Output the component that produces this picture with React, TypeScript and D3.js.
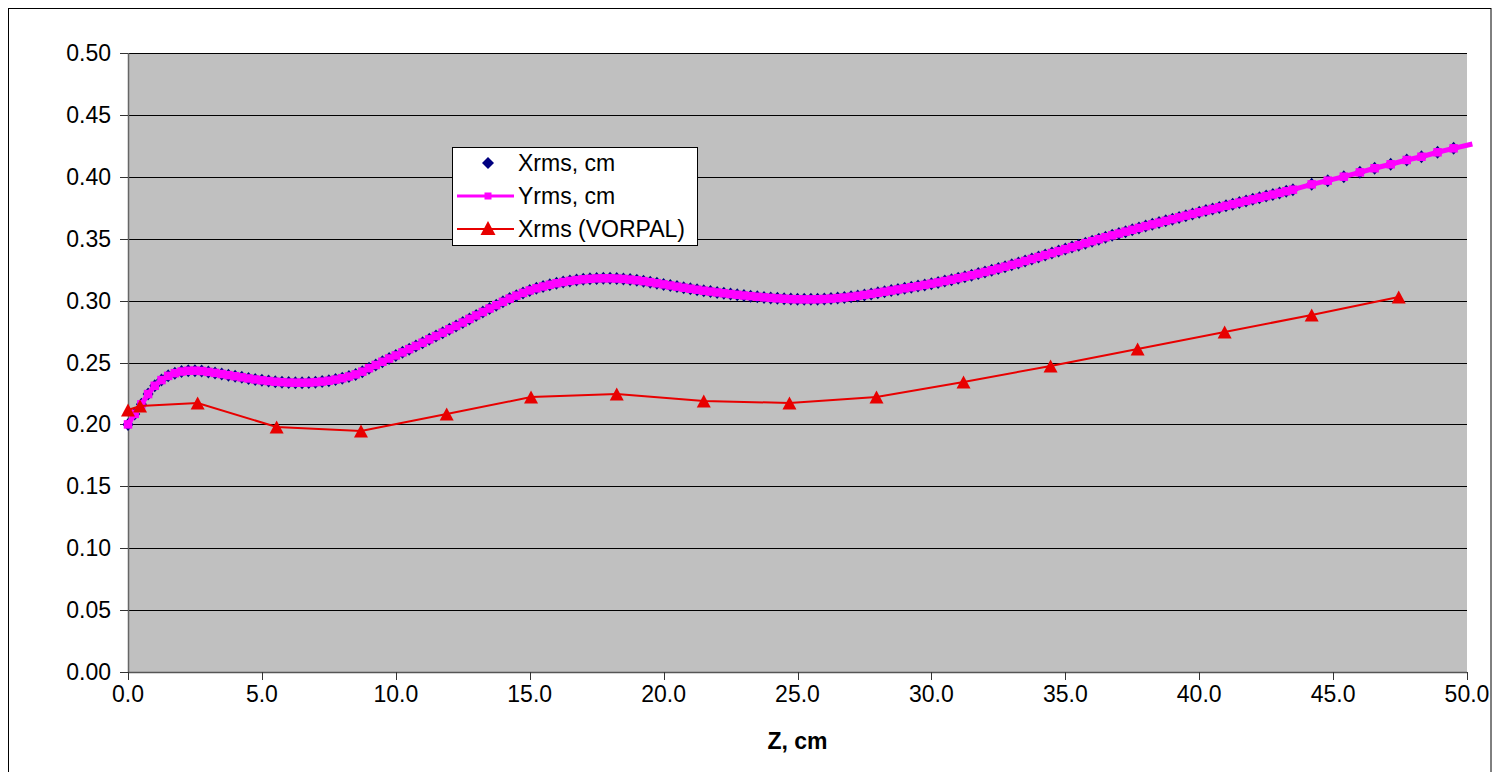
import * as d3 from "d3";

// Xrms / Yrms beam size vs Z, dense sampling (0 .. 43.5 cm, every 0.25 cm)
const denseStart = 0;
const denseStep = 0.25;
const xrmsDense = [
  0.2, 0.2085, 0.2162, 0.2245, 0.2312, 0.2358, 0.2392, 0.2414,
  0.2427, 0.2433, 0.2434, 0.2431, 0.2424, 0.2416, 0.2407, 0.2398,
  0.2389, 0.238, 0.2371, 0.2363, 0.2356, 0.235, 0.2345, 0.2341,
  0.2338, 0.2337, 0.2337, 0.2338, 0.2341, 0.2346, 0.2353, 0.2362,
  0.2373, 0.2387, 0.2404, 0.2426, 0.2454, 0.248, 0.2506, 0.2532,
  0.2557, 0.2582, 0.2608, 0.2634, 0.266, 0.2687, 0.2714, 0.2741,
  0.2768, 0.2795, 0.2823, 0.2852, 0.288, 0.2908, 0.2936, 0.2963,
  0.299, 0.3016, 0.304, 0.3062, 0.3082, 0.3099, 0.3114, 0.3128,
  0.314, 0.315, 0.3159, 0.3166, 0.3172, 0.3176, 0.3179, 0.318,
  0.318, 0.3178, 0.3175, 0.317, 0.3164, 0.3157, 0.3149, 0.314,
  0.3131, 0.3122, 0.3113, 0.3104, 0.3096, 0.3088, 0.308, 0.3073,
  0.3066, 0.3059, 0.3053, 0.3047, 0.3041, 0.3036, 0.3031, 0.3026,
  0.3022, 0.3018, 0.3015, 0.3012, 0.3011, 0.301, 0.301, 0.3011,
  0.3013, 0.3016, 0.302, 0.3025, 0.3031, 0.3038, 0.3046, 0.3054,
  0.3063, 0.3072, 0.3081, 0.309, 0.3099, 0.3108, 0.3117, 0.3127,
  0.3137, 0.3147, 0.3158, 0.3169, 0.3181, 0.3193, 0.3205, 0.3218,
  0.3231, 0.3245, 0.3259, 0.3274, 0.3289, 0.3304, 0.332, 0.3336,
  0.3352, 0.3368, 0.3384, 0.34, 0.3416, 0.3432, 0.3448, 0.3464,
  0.348, 0.3496, 0.3512, 0.3527, 0.3542, 0.3557, 0.3572, 0.3587,
  0.3602, 0.3616, 0.363, 0.3644, 0.3658, 0.3672, 0.3686, 0.37,
  0.3714, 0.3727, 0.374, 0.3753, 0.3766, 0.3779, 0.3792, 0.3805,
  0.3818, 0.3831, 0.3844, 0.3857, 0.387, 0.3883, 0.3896,
];

// sparse tail of the same run
const sparseZ = [44.2, 44.8, 45.4, 46.0, 46.55, 47.15, 47.75, 48.3, 48.9, 49.5, 50.2];
const xrmsSparse = [0.3939, 0.3969, 0.4001, 0.4036, 0.4069, 0.4101, 0.4136, 0.4162, 0.4198, 0.423, 0.4265];

// Yrms lies on top of Xrms in the picture
const yrmsDense = xrmsDense;
const yrmsSparse = xrmsSparse;

// VORPAL Xrms
const vorpalZ = [0, 0.45, 2.6, 5.55, 8.7, 11.9, 15.05, 18.25, 21.5, 24.7, 27.95, 31.2, 34.45, 37.7, 40.95, 44.2, 47.45];
const vorpalX = [
  0.2116, 0.2149, 0.2173, 0.1979, 0.1947, 0.2084, 0.2221, 0.2246, 0.2189,
  0.2173, 0.2221, 0.2343, 0.2472, 0.2609, 0.2746, 0.2884, 0.3029,
];

const yTicks = [0, 0.05, 0.1, 0.15, 0.2, 0.25, 0.3, 0.35, 0.4, 0.45, 0.5];
const xTicks = [0, 5, 10, 15, 20, 25, 30, 35, 40, 45, 50];
const legendLabels = ["Xrms, cm", "Yrms, cm", "Xrms (VORPAL)"];

const FONT = "'Liberation Sans', Arial, sans-serif";
const NAVY = "#000080";
const MAGENTA = "#FF00FF";
const RED = "#E80000";

type Pt = { z: number; v: number };

function toPoints(z0: number, step: number, dense: number[], zs: number[], tail: number[]): Pt[] {
  const pts = dense.map((v, i) => ({ z: z0 + i * step, v }));
  return pts.concat(zs.map((z, i) => ({ z, v: tail[i] })));
}

const diamond = (cx: number, cy: number, rx = 5.5, ry = 6.5) =>
  `M${cx},${cy - ry}L${cx + rx},${cy}L${cx},${cy + ry}L${cx - rx},${cy}Z`;
const triangle = (cx: number, cy: number, w = 14, h = 13) =>
  `M${cx},${cy - h / 2}L${cx + w / 2},${cy + h / 2}L${cx - w / 2},${cy + h / 2}Z`;

export default function App() {
  const left = 128;
  const right = 1467;
  const top = 53;
  const bottom = 672;

  const x = d3.scaleLinear().domain([0, 50]).range([left, right]);
  const y = d3.scaleLinear().domain([0, 0.5]).range([bottom, top]);

  const xrms = toPoints(denseStart, denseStep, xrmsDense, sparseZ, xrmsSparse);
  const yrms = toPoints(denseStart, denseStep, yrmsDense, sparseZ, yrmsSparse);
  const vorpal = vorpalZ.map((z, i) => ({ z, v: vorpalX[i] }));

  const line = d3
    .line<Pt>()
    .x((d) => x(d.z))
    .y((d) => y(d.v));

  const inside = (d: Pt) => d.z <= 50;
  const sq = 8.5;

  const legendX = 452.5;
  const legendY = 147.5;
  const rowY = [163, 196, 229];

  return (
    <div style={{ position: "fixed", left: 0, top: 0, width: 1492, height: 772, background: "#fff" }}>
      <svg width={1492} height={772} style={{ display: "block" }} fontFamily={FONT}>
        <rect x={8.5} y={8.5} width={1482.5} height={800} fill="#fff" stroke="#000" strokeWidth={1} />

        <rect x={left} y={top} width={right - left} height={bottom - top} fill="#C0C0C0" />

        {yTicks.slice(1).map((t) => (
          <line key={"g" + t} x1={left} x2={right} y1={Math.round(y(t)) + 0.5} y2={Math.round(y(t)) + 0.5} stroke="#000" strokeWidth={1} />
        ))}

        {/* axes */}
        <line x1={left + 0.5} x2={left + 0.5} y1={top} y2={bottom} stroke="#666" strokeWidth={1.5} />
        <line x1={left} x2={right} y1={bottom + 0.5} y2={bottom + 0.5} stroke="#555" strokeWidth={1.5} />

        {yTicks.map((t) => (
          <g key={"y" + t}>
            <line x1={120} x2={left} y1={Math.round(y(t)) + 0.5} y2={Math.round(y(t)) + 0.5} stroke="#333" />
            <text x={111} y={y(t)} dy="0.35em" textAnchor="end" fontSize={23} fill="#000">
              {t.toFixed(2)}
            </text>
          </g>
        ))}

        {xTicks.map((t) => (
          <g key={"x" + t}>
            <line x1={Math.round(x(t)) + 0.5} x2={Math.round(x(t)) + 0.5} y1={bottom} y2={bottom + 8} stroke="#333" />
            <text x={x(t)} y={702} textAnchor="middle" fontSize={23} fill="#000">
              {t.toFixed(1)}
            </text>
          </g>
        ))}

        <text x={(left + right) / 2} y={749} textAnchor="middle" fontSize={23} fontWeight="bold" fill="#000">
          Z, cm
        </text>

        {/* Xrms: navy diamonds only */}
        <g fill={NAVY}>
          {xrms.filter(inside).map((d, i) => (
            <path key={i} d={diamond(x(d.z), y(d.v))} />
          ))}
        </g>

        {/* Yrms: magenta line with squares */}
        <path d={line(yrms) ?? ""} fill="none" stroke={MAGENTA} strokeWidth={5} />
        <g fill={MAGENTA}>
          {yrms.filter(inside).map((d, i) => (
            <rect key={i} x={x(d.z) - sq / 2} y={y(d.v) - sq / 2} width={sq} height={sq} />
          ))}
        </g>

        {/* VORPAL: red line with triangles */}
        <path d={line(vorpal) ?? ""} fill="none" stroke={RED} strokeWidth={2} />
        <g fill={RED}>
          {vorpal.map((d, i) => (
            <path key={i} d={triangle(x(d.z), y(d.v))} />
          ))}
        </g>

        {/* legend */}
        <rect x={legendX} y={legendY} width={245} height={98} fill="#fff" stroke="#000" strokeWidth={1} />
        <path d={diamond(488, rowY[0], 6, 6)} fill={NAVY} />
        <line x1={457} x2={514} y1={rowY[1]} y2={rowY[1]} stroke={MAGENTA} strokeWidth={3} />
        <rect x={484.5} y={rowY[1] - 3.5} width={7} height={7} fill={MAGENTA} />
        <line x1={457} x2={514} y1={rowY[2]} y2={rowY[2]} stroke={RED} strokeWidth={2} />
        <path d={triangle(488, rowY[2] - 1, 15, 14)} fill={RED} />
        {legendLabels.map((label, i) => (
          <text key={label} x={518} y={rowY[i]} dy="0.35em" fontSize={23} fill="#000">
            {label}
          </text>
        ))}
      </svg>
    </div>
  );
}
